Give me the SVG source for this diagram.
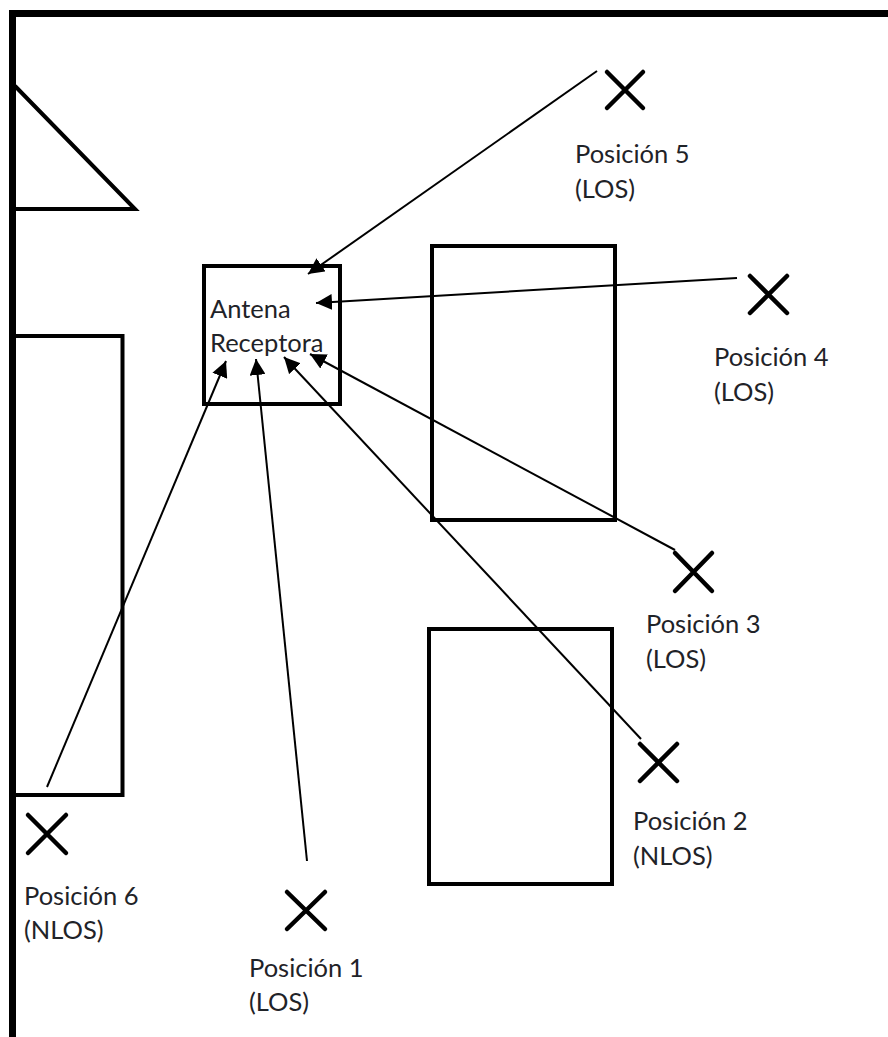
<svg xmlns="http://www.w3.org/2000/svg" width="888" height="1037" viewBox="0 0 888 1037">
<style>
.wall{fill:none;stroke:#000;stroke-width:7}
.box{fill:none;stroke:#000;stroke-width:4}
.x{fill:none;stroke:#000;stroke-width:4.500;stroke-linecap:round}
.c{fill:none;stroke:#000;stroke-width:2;marker-end:url(#a)}
text{font-family:Lato,"Open Sans",sans-serif;font-size:25.500px;fill:#1f2328}
</style>
<defs><marker id="a" markerUnits="userSpaceOnUse" markerWidth="20" markerHeight="16" refX="16" refY="8" orient="auto"><path d="M0 0L16 8L0 16Z" fill="#000"/></marker></defs>
<rect width="888" height="1037" fill="#fff"/>
<g id="walls"><path class="wall" d="M12.500 1037V13.500H888"/></g>
<g id="obstacle-triangle"><path d="M15 86L135 209H15" fill="none" stroke="#000" stroke-width="4"/></g>
<g id="obstacle-left"><path class="box" d="M15 336H122.500V795H15"/></g>
<g id="obstacle-top"><rect class="box" x="432" y="246" width="183" height="274"/></g>
<g id="obstacle-bottom"><rect class="box" x="429" y="629" width="183" height="255"/></g>
<g id="antena"><rect class="box" x="204" y="266" width="136" height="138"/><text x="210" y="318">Antena</text><text x="210" y="352">Receptora</text></g>
<g id="connectors">
<path class="c" d="M597 71L308 274"/>
<path class="c" d="M737 278L316 303"/>
<path class="c" d="M675 550L310 354"/>
<path class="c" d="M641 739L284 357"/>
<path class="c" d="M307 861L256 359"/>
<path class="c" d="M47 787L226 361"/>
</g>
<g id="pos5"><path class="x" d="M607 72L643 108M643 72L607 108"/><text x="575" y="163">Posición 5</text><text x="575" y="198">(LOS)</text></g>
<g id="pos4"><path class="x" d="M750 276L787 313M787 276L750 313"/><text x="714" y="366">Posición 4</text><text x="714" y="401">(LOS)</text></g>
<g id="pos3"><path class="x" d="M675 553L712 591M712 553L675 591"/><text x="646" y="633">Posición 3</text><text x="646" y="668">(LOS)</text></g>
<g id="pos2"><path class="x" d="M640 744L677 781M677 744L640 781"/><text x="633" y="830">Posición 2</text><text x="633" y="865">(NLOS)</text></g>
<g id="pos6"><path class="x" d="M28 815L66 853M66 815L28 853"/><text x="24" y="905">Posición 6</text><text x="24" y="939">(NLOS)</text></g>
<g id="pos1"><path class="x" d="M287 892L325 929M325 892L287 929"/><text x="249" y="977">Posición 1</text><text x="249" y="1011">(LOS)</text></g>
</svg>
